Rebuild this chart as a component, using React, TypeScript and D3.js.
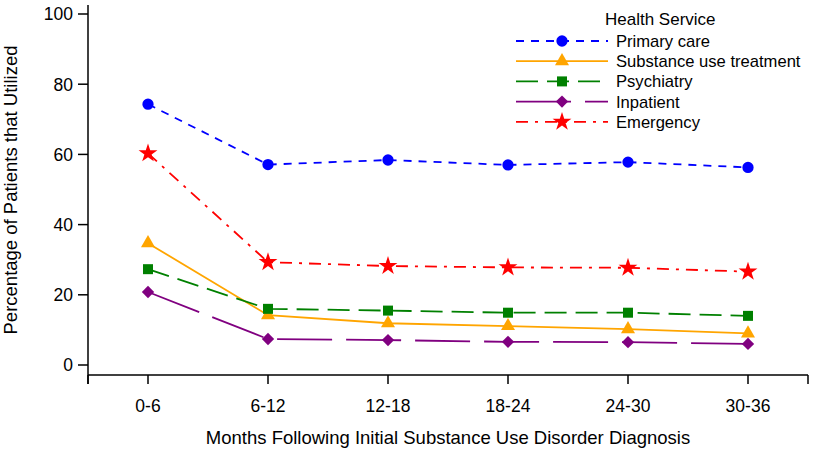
import React from "react";
import * as d3 from "d3";

const categories = ["0-6", "6-12", "12-18", "18-24", "24-30", "30-36"];
const seriesNames = ["Primary care", "Substance use treatment", "Psychiatry", "Inpatient", "Emergency"];
const primaryCare = [74.3, 57.1, 58.4, 57.0, 57.8, 56.3];
const substanceUse = [34.7, 14.2, 11.9, 11.1, 10.2, 9.0];
const psychiatry = [27.3, 16.0, 15.5, 14.9, 14.9, 14.0];
const inpatient = [20.8, 7.4, 7.1, 6.6, 6.5, 6.0];
const emergency = [60.3, 29.3, 28.2, 27.8, 27.7, 26.6];
const yTicks = [0, 20, 40, 60, 80, 100];

const seriesValues = [primaryCare, substanceUse, psychiatry, inpatient, emergency];
const colors = ["#0000FF", "#FFA500", "#008000", "#800080", "#FF0000"];
const dashes = ["8,7", "", "22,9", "55,14", "12,7,3,7"];
const symbols = [d3.symbolCircle, d3.symbolTriangle, d3.symbolSquare, d3.symbolSquare, d3.symbolStar];
const symSizes = [100, 85, 100, 76, 110];
const symRot = [0, 0, 0, 45, 0];

const W = 813;
const H = 452;
const FONT = "'Liberation Sans', Arial, sans-serif";

export default function App() {
  const x = d3.scaleLinear().domain([-0.5, 5.5]).range([88, 808]);
  const y = d3.scaleLinear().domain([0, 100]).range([365, 14]);
  const line = d3
    .line<number>()
    .x((_, i) => x(i))
    .y((d) => y(d));

  const legendX0 = 516;
  const legendX1 = 608;
  const legendMarkX = 562;
  const legendTextX = 616;
  const legendY0 = 41;
  const legendStep = 20.2;

  const sym = (s: number) => d3.symbol().type(symbols[s]).size(symSizes[s])() || "";

  return (
    <svg
      width={W}
      height={H}
      style={{ position: "absolute", left: 0, top: 0, background: "#fff" }}
      fontFamily={FONT}
    >
      <rect x={0} y={0} width={W} height={H} fill="#fff" />
      {/* axes */}
      <line x1={88} x2={88} y1={5} y2={384} stroke="#000" strokeWidth={1.5} />
      <line x1={88} x2={808} y1={375} y2={375} stroke="#000" strokeWidth={1.5} />
      {yTicks.map((t) => (
        <g key={t}>
          <line x1={78} x2={88} y1={y(t)} y2={y(t)} stroke="#000" strokeWidth={1.5} />
          <text x={73} y={y(t)} dy="0.36em" textAnchor="end" fontSize={17.5} fill="#000">
            {t}
          </text>
        </g>
      ))}
      {[-0.5, 5.5].map((v) => (
        <line key={v} x1={x(v)} x2={x(v)} y1={375} y2={384} stroke="#000" strokeWidth={1.5} />
      ))}
      {categories.map((c, i) => (
        <g key={c}>
          <line x1={x(i)} x2={x(i)} y1={375} y2={384} stroke="#000" strokeWidth={1.5} />
          <text x={x(i)} y={412} textAnchor="middle" fontSize={17.5} fill="#000">
            {c}
          </text>
        </g>
      ))}
      <text x={448} y={444} textAnchor="middle" fontSize={18.5} fill="#000">
        Months Following Initial Substance Use Disorder Diagnosis
      </text>
      <text
        transform={`translate(17,190) rotate(-90)`}
        textAnchor="middle"
        fontSize={18.5}
        fill="#000"
      >
        Percentage of Patients that Utilized
      </text>

      {/* lines */}
      {seriesValues.map((vals, s) => (
        <path
          key={s}
          d={line(vals) || ""}
          fill="none"
          stroke={colors[s]}
          strokeWidth={1.8}
          strokeDasharray={dashes[s] || undefined}
        />
      ))}
      {/* markers */}
      {seriesValues.map((vals, s) =>
        vals.map((v, i) => (
          <path
            key={`${s}-${i}`}
            transform={`translate(${x(i)},${y(v)}) rotate(${symRot[s]})`}
            d={sym(s)}
            fill={colors[s]}
          />
        ))
      )}

      {/* legend */}
      <text x={605} y={25} fontSize={17} fill="#000">
        Health Service
      </text>
      {seriesNames.map((n, s) => {
        const ly = legendY0 + s * legendStep;
        return (
          <g key={n}>
            <line
              x1={legendX0}
              x2={legendX1}
              y1={ly}
              y2={ly}
              stroke={colors[s]}
              strokeWidth={1.8}
              strokeDasharray={dashes[s] || undefined}
            />
            <path
              transform={`translate(${legendMarkX},${ly}) rotate(${symRot[s]})`}
              d={sym(s)}
              fill={colors[s]}
            />
            <text x={legendTextX} y={ly} dy="0.36em" fontSize={16.6} fill="#000">
              {n}
            </text>
          </g>
        );
      })}
    </svg>
  );
}
